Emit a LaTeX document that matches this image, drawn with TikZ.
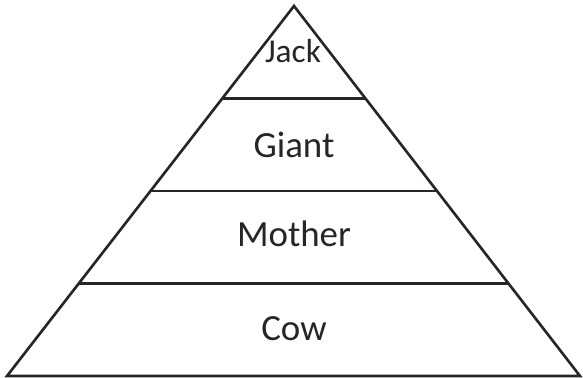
\documentclass[tikz,border=0pt]{standalone}
\usepackage{fontspec}
\setmainfont{Carlito}
\usetikzlibrary{calc}

\begin{document}
\begin{tikzpicture}[
    x=0.02cm, y=-0.02cm,
    edge/.style={line width=1.5pt, draw=black!85},
    tier/.style={anchor=base, text=black!85, font=\fontsize{21}{24}\selectfont},
    small/.style={tier, font=\fontsize{19}{22}\selectfont}
]
    \useasboundingbox (0,0) rectangle (583,378);
    \coordinate (top) at (294,6);
    \coordinate (bl) at (7,376);
    \coordinate (br) at (580,376);

    \draw[edge] (top) -- (bl) -- (br) -- cycle;
    \foreach \f in {0.25,0.5,0.75}
        \draw[edge] ($(top)!\f!(bl)$) -- ($(top)!\f!(br)$);

    \node[small] (jack) at (293,63) {Jack};
    \node[tier] (giant) at (294,158) {Giant};
    \node[tier] (mother) at (294,247) {Mother};
    \node[tier] (cow) at (294,341) {Cow};
\end{tikzpicture}
\end{document}
